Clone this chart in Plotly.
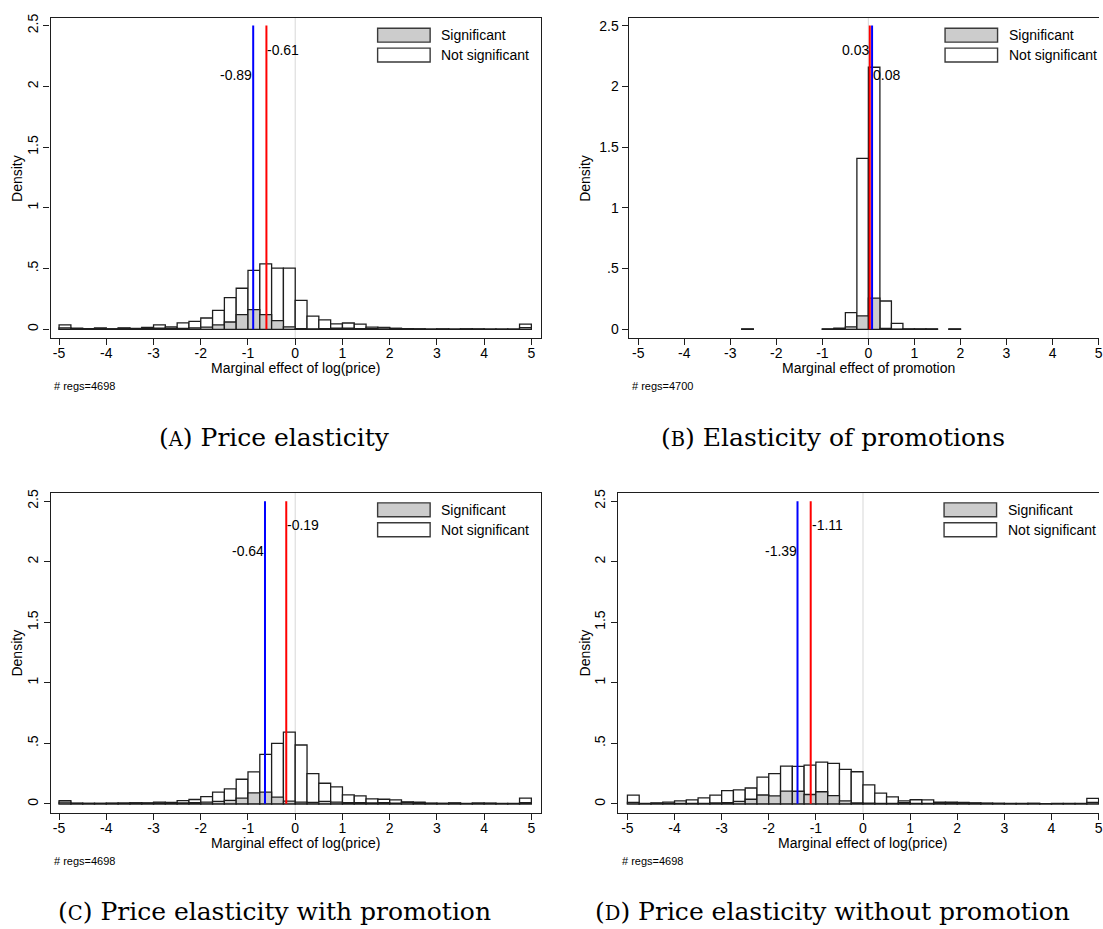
import plotly.graph_objects as go

W, H = 1103, 929
SANS = "Liberation Sans, Arial, Helvetica, sans-serif"
SERIF = "DejaVu Serif, serif"
INK = "#1e1e1e"

# Left edges of the 0.25-wide histogram bins
BIN_LEFT = [-5.0, -4.75, -4.5, -4.25, -4.0, -3.75, -3.5, -3.25, -3.0, -2.75,
            -2.5, -2.25, -2.0, -1.75, -1.5, -1.25, -1.0, -0.75, -0.5, -0.25,
            0.0, 0.25, 0.5, 0.75, 1.0, 1.25, 1.5, 1.75, 2.0, 2.25,
            2.5, 2.75, 3.0, 3.25, 3.5, 3.75, 4.0, 4.25, 4.5, 4.75]
BIN_WIDTH = 0.25

# (A) price elasticity
A_NOT_SIG = [0.036, 0.010, 0.005, 0.011, 0.006, 0.011, 0.008, 0.016, 0.037, 0.020,
             0.053, 0.066, 0.093, 0.155, 0.260, 0.338, 0.485, 0.538, 0.504, 0.504,
             0.238, 0.108, 0.078, 0.044, 0.052, 0.042, 0.018, 0.016, 0.008, 0.006,
             0.003, 0.002, 0.004, 0.002, 0.004, 0.003, 0.002, 0.002, 0.002, 0.042]
A_SIG = [0.012, 0.003, 0.003, 0.006, 0.004, 0.008, 0.006, 0.010, 0.010, 0.010,
         0.008, 0.012, 0.018, 0.036, 0.060, 0.120, 0.162, 0.120, 0.072, 0.020,
         0.005, 0.004, 0.005, 0.010, 0.010, 0.006, 0.006, 0.012, 0.008, 0.006,
         0.003, 0.002, 0.004, 0.002, 0.003, 0.002, 0.002, 0.002, 0.002, 0.013]

# (B) elasticity of promotions (empty bins are None)
B_NOT_SIG = [None, None, None, None, None, None, None, None, None, 0.003,
             None, None, None, None, None, None, 0.003, 0.010, 0.137, 1.407,
             2.157, 0.233, 0.049, 0.003, 0.003, 0.003, None, 0.003, None, None,
             None, None, None, None, None, None, None, None, None, None]
B_SIG = [None, None, None, None, None, None, None, None, None, 0.002,
         None, None, None, None, None, None, 0.001, 0.005, 0.020, 0.110,
         0.257, 0.008, 0.002, 0.002, 0.002, 0.002, None, 0.002, None, None,
         None, None, None, None, None, None, None, None, None, None]

# (C) price elasticity with promotion
C_NOT_SIG = [0.027, 0.005, 0.004, 0.004, 0.005, 0.006, 0.008, 0.008, 0.014, 0.012,
             0.027, 0.036, 0.060, 0.096, 0.124, 0.203, 0.264, 0.409, 0.500, 0.593,
             0.486, 0.250, 0.170, 0.140, 0.074, 0.066, 0.041, 0.038, 0.033, 0.016,
             0.014, 0.005, 0.004, 0.008, 0.003, 0.006, 0.006, 0.003, 0.003, 0.047]
C_SIG = [0.015, 0.003, 0.003, 0.004, 0.004, 0.005, 0.007, 0.006, 0.008, 0.010,
         0.008, 0.010, 0.014, 0.020, 0.028, 0.047, 0.090, 0.096, 0.055, 0.022,
         0.015, 0.012, 0.020, 0.015, 0.010, 0.010, 0.008, 0.010, 0.006, 0.012,
         0.010, 0.004, 0.003, 0.006, 0.002, 0.005, 0.004, 0.002, 0.002, 0.010]

# (D) price elasticity without promotion
D_NOT_SIG = [0.072, 0.004, 0.007, 0.015, 0.024, 0.032, 0.050, 0.072, 0.110, 0.115,
             0.131, 0.220, 0.250, 0.312, 0.310, 0.320, 0.345, 0.334, 0.285, 0.265,
             0.156, 0.089, 0.057, 0.024, 0.034, 0.033, 0.013, 0.014, 0.011, 0.006,
             0.003, 0.004, 0.003, 0.004, 0.003, 0.002, 0.002, 0.003, 0.002, 0.045]
D_SIG = [0.012, 0.002, 0.004, 0.004, 0.004, 0.003, 0.004, 0.008, 0.010, 0.020,
         0.038, 0.073, 0.065, 0.105, 0.104, 0.077, 0.100, 0.068, 0.024, 0.007,
         0.005, 0.004, 0.003, 0.010, 0.004, 0.003, 0.005, 0.010, 0.010, 0.008,
         0.006, 0.003, 0.002, 0.002, 0.004, 0.002, 0.003, 0.002, 0.003, 0.012]

# Mean (blue) and median (red) of each distribution
MEANS = {"A": -0.89, "B": 0.08, "C": -0.64, "D": -1.39}
MEDIANS = {"A": -0.61, "B": 0.03, "C": -0.19, "D": -1.11}
N_REGS = {"A": 4698, "B": 4700, "C": 4698, "D": 4698}

X_TICKS = [-5, -4, -3, -2, -1, 0, 1, 2, 3, 4, 5]
X_TICK_TEXT = ["-5", "-4", "-3", "-2", "-1", "0", "1", "2", "3", "4", "5"]
Y_TICKS = [0, 0.5, 1, 1.5, 2, 2.5]
Y_TICK_TEXT = ["0", ".5", "1", "1.5", "2", "2.5"]

LEGEND_LABELS = ["Significant", "Not significant"]
LEGEND_FILLS = ["#cccccc", "#ffffff"]

# Frame of each panel in pixels: box (left, top, right, bottom), pixel
# positions of x=-5, x=5, y=0 and y=2.5, and the text blocks around it.
PANELS = [
    dict(key="A", not_sig=A_NOT_SIG, sig=A_SIG, box=(50.7, 14.0, 542.5, 335.7),
         xm5=59.3, xp5=533.3, y0=326.7, y25=21.7, ytick_angle=-90, density_x=16.9,
         xtitle="Marginal effect of log(price)", cap_x=275.5, cap_base=443.7,
         caption="Price elasticity"),
    dict(key="B", not_sig=B_NOT_SIG, sig=B_SIG, box=(631.0, 14.0, 1112.0, 335.7),
         xm5=640.5, xp5=1102.6, y0=326.7, y25=21.7, ytick_angle=0, density_x=586.9,
         xtitle="Marginal effect of promotion", cap_x=836.0, cap_base=443.7,
         caption="Elasticity of promotions"),
    dict(key="C", not_sig=C_NOT_SIG, sig=C_SIG, box=(51.0, 490.7, 542.5, 812.3),
         xm5=59.3, xp5=533.3, y0=803.3, y25=499.3, ytick_angle=-90, density_x=16.9,
         xtitle="Marginal effect of log(price)", cap_x=275.5, cap_base=920.0,
         caption="Price elasticity with promotion"),
    dict(key="D", not_sig=D_NOT_SIG, sig=D_SIG, box=(620.5, 490.7, 1111.0, 812.3),
         xm5=629.7, xp5=1102.6, y0=803.3, y25=499.3, ytick_angle=-90, density_x=586.9,
         xtitle="Marginal effect of log(price)", cap_x=836.0, cap_base=920.0,
         caption="Price elasticity without promotion"),
]


def fx(px):
    return px / W


def fy(py):
    return 1 - py / H


fig = go.Figure()
shapes = []
annotations = []
layout_axes = {}

for i, p in enumerate(PANELS, start=1):
    sfx = "" if i == 1 else str(i)
    xname, yname = "x" + sfx, "y" + sfx
    bl, bt, br, bb = p["box"]
    vis_r = min(br, W)

    xscale = (p["xp5"] - p["xm5"]) / 10.0
    yscale = (p["y0"] - p["y25"]) / 2.5
    xrange_ = [-5 - (p["xm5"] - bl) / xscale, -5 + (vis_r - p["xm5"]) / xscale]
    yrange_ = [-(bb - p["y0"]) / yscale, 2.5 + (p["y25"] - bt) / yscale]

    layout_axes["xaxis" + sfx] = dict(
        domain=[fx(bl), fx(vis_r)], range=xrange_, anchor=yname,
        tickvals=X_TICKS, ticktext=X_TICK_TEXT,
        ticks="outside", ticklen=6, tickwidth=1.2, tickcolor=INK,
        showline=True, linecolor=INK, linewidth=1.4, mirror=True,
        showgrid=False, zeroline=False, ticklabelstandoff=-4,
        ticklabeloverflow="allow",
        tickfont=dict(family=SANS, size=14, color="black"),
    )
    layout_axes["yaxis" + sfx] = dict(
        domain=[fy(bb), fy(bt)], range=yrange_, anchor=xname,
        tickvals=Y_TICKS, ticktext=Y_TICK_TEXT, tickangle=p["ytick_angle"],
        ticks="outside", ticklen=6, tickwidth=1.2, tickcolor=INK,
        showline=True, linecolor=INK, linewidth=1.4, mirror=(br <= W),
        showgrid=False, zeroline=False, ticklabeloverflow="allow",
        tickfont=dict(family=SANS, size=14, color="black"),
    )

    # histogram bars: not significant underneath, significant on top
    fig.add_trace(go.Bar(
        x=BIN_LEFT, y=p["not_sig"], width=BIN_WIDTH, offset=0,
        marker=dict(color="#ffffff", line=dict(color=INK, width=1.3)),
        name=LEGEND_LABELS[1], xaxis=xname, yaxis=yname, showlegend=False,
    ))
    fig.add_trace(go.Bar(
        x=BIN_LEFT, y=p["sig"], width=BIN_WIDTH, offset=0,
        marker=dict(color="#cccccc", line=dict(color=INK, width=1.3)),
        name=LEGEND_LABELS[0], xaxis=xname, yaxis=yname, showlegend=False,
    ))

    mean, med = MEANS[p["key"]], MEDIANS[p["key"]]
    fig.add_trace(go.Scatter(x=[mean, mean], y=[0, 2.5], mode="lines",
                             line=dict(color="#0000ff", width=2),
                             xaxis=xname, yaxis=yname, showlegend=False))
    fig.add_trace(go.Scatter(x=[med, med], y=[0, 2.5], mode="lines",
                             line=dict(color="#ff0000", width=2),
                             xaxis=xname, yaxis=yname, showlegend=False))

    # reference line at zero across the whole plot region
    shapes.append(dict(type="line", xref=xname, yref=yname + " domain",
                       x0=0, x1=0, y0=0, y1=1, layer="below",
                       line=dict(color="#dedede", width=1.2)))

    # value labels on the outer side of each line
    med_right = med > mean
    annotations.append(dict(
        x=med, y=2.3, xref=xname, yref=yname, text=f"{med:.2f}",
        xanchor="left" if med_right else "right", yanchor="middle",
        showarrow=False, borderpad=0,
        font=dict(family=SANS, size=14, color="black")))
    annotations.append(dict(
        x=mean, y=2.09, xref=xname, yref=yname, text=f"{mean:.2f}",
        xanchor="right" if med_right else "left", yanchor="middle",
        showarrow=False, borderpad=0,
        font=dict(family=SANS, size=14, color="black")))

    # legend block at the top right of the plot region
    for k, (lab, fill) in enumerate(zip(LEGEND_LABELS, LEGEND_FILLS)):
        top = bt + 10.3 + 20 * k
        shapes.append(dict(type="rect", xref="paper", yref="paper",
                           x0=fx(br - 163.5), x1=fx(br - 110.8),
                           y0=fy(top + 14), y1=fy(top),
                           fillcolor=fill, line=dict(color="#3a3a3a", width=1.4)))
        annotations.append(dict(
            x=fx(br - 101.8), y=fy(top + 7.2), xref="paper", yref="paper",
            text=lab, xanchor="left", yanchor="middle", showarrow=False,
            font=dict(family=SANS, size=14, color="black")))

    # axis titles
    annotations.append(dict(
        x=fx(p["density_x"]), y=fy((bt + bb) / 2), xref="paper", yref="paper",
        text="Density", textangle=-90, xanchor="center", yanchor="middle",
        showarrow=False, font=dict(family=SANS, size=14, color="black")))
    annotations.append(dict(
        x=fx((bl + br) / 2), y=fy(bb + 30), xref="paper", yref="paper",
        text=p["xtitle"], xanchor="center", yanchor="middle",
        showarrow=False, font=dict(family=SANS, size=14, color="black")))

    # regression count note
    annotations.append(dict(
        x=fx(bl + 1.5), y=fy(bb + 48.3), xref="paper", yref="paper",
        text=f"# regs={N_REGS[p['key']]}", xanchor="left", yanchor="middle",
        showarrow=False, font=dict(family=SANS, size=11, color="black")))

    # sub-figure caption with a small-caps letter
    annotations.append(dict(
        x=fx(p["cap_x"]), y=fy(p["cap_base"] - 8.5), xref="paper", yref="paper",
        text=f"(<span style='font-size:19.5px'>{p['key']}</span>) {p['caption']}",
        xanchor="center", yanchor="middle", showarrow=False,
        font=dict(family=SERIF, size=25, color="black")))

fig.update_layout(
    width=W, height=H,
    margin=dict(l=0, r=0, t=0, b=0),
    paper_bgcolor="white", plot_bgcolor="white",
    barmode="overlay", showlegend=False,
    shapes=shapes, annotations=annotations,
    **layout_axes,
)

fig.write_html("out.html")
